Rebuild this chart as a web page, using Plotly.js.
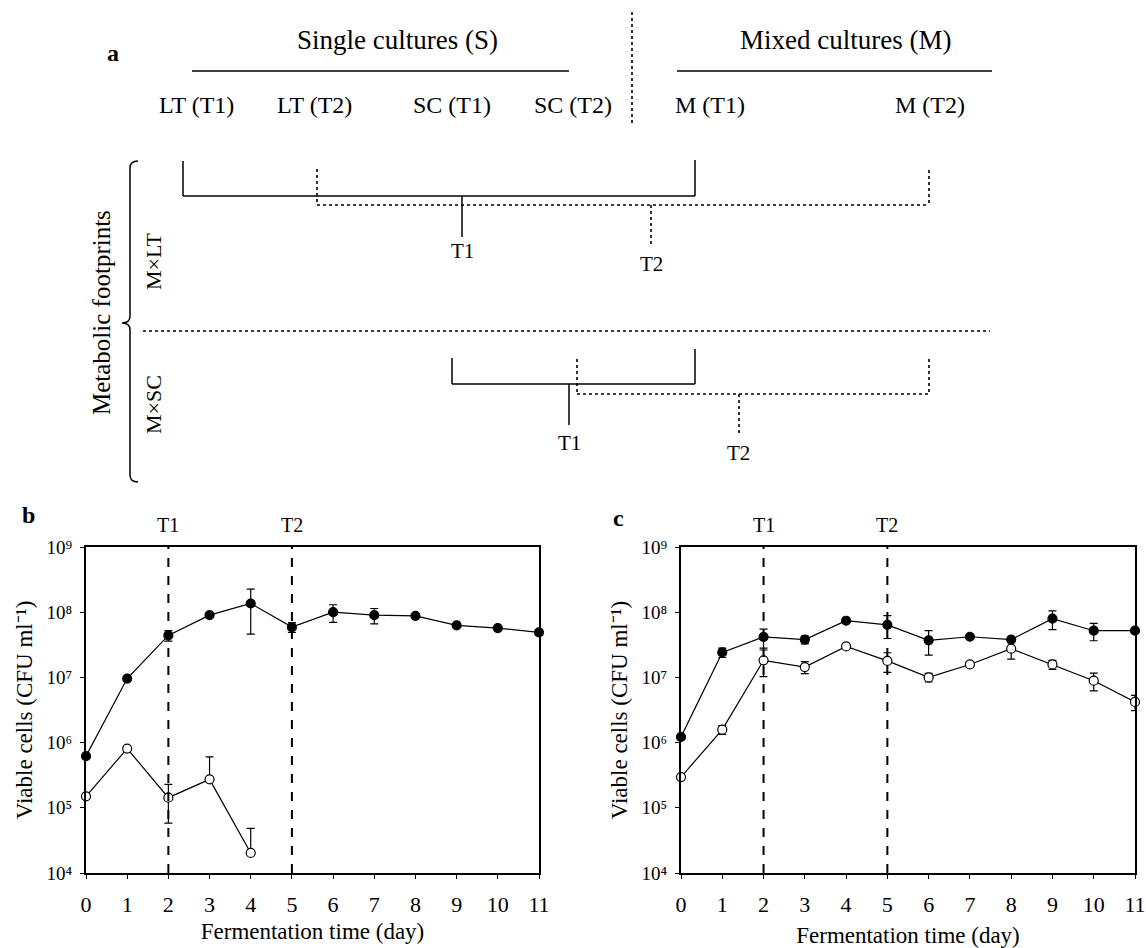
<!DOCTYPE html>
<html><head><meta charset="utf-8">
<script src="https://cdn.plot.ly/plotly-3.0.1.min.js"></script>
<style>html,body{margin:0;padding:0;background:#fff}</style>
</head><body>
<div id="chart" style="width:1146px;height:948px"></div>
<script>
// ---------- data ----------
const days = [0,1,2,3,4,5,6,7,8,9,10,11];
const samplingDays = [2, 5];
const samplingLabels = ['T1', 'T2'];

// panel b: single cultures
const singleFilled      = [6.2e5, 9.6e6, 4.4e7, 9.0e7, 1.36e8, 5.9e7, 1.0e8, 9.0e7, 8.8e7, 6.3e7, 5.7e7, 4.9e7];
const singleFilledErr   = [0, 0, 8e6, 5e6, 9e7, 1e7, 3e7, 2.4e7, 3e6, 0, 0, 4e6];
const singleOpenDays    = [0,1,2,3,4];
const singleOpen        = [1.5e5, 8.1e5, 1.43e5, 2.73e5, 2.03e4];
const singleOpenErrUp   = [0, 0, 8.5e4, 3.3e5, 2.8e4];
const singleOpenErrDown = [0, 0, 8.5e4, 0, 0];

// panel c: mixed cultures
const mixedFilled    = [1.22e6, 2.42e7, 4.17e7, 3.8e7, 7.4e7, 6.4e7, 3.7e7, 4.2e7, 3.8e7, 7.96e7, 5.2e7, 5.2e7];
const mixedFilledErr = [0, 4e6, 1.35e7, 5.4e6, 2e6, 2.45e7, 1.5e7, 2e6, 2e6, 2.55e7, 1.55e7, 0];
const mixedOpen      = [2.96e5, 1.58e6, 1.83e7, 1.44e7, 2.99e7, 1.79e7, 1.0e7, 1.58e7, 2.76e7, 1.58e7, 8.9e6, 4.2e6];
const mixedOpenErr   = [0, 2.5e5, 8e6, 3e6, 1e6, 6e6, 1.5e6, 1.5e6, 8.5e6, 2.5e6, 2.7e6, 1.1e6];

const yTickVals = [1e4, 1e5, 1e6, 1e7, 1e8, 1e9];
const yTickText = ['10⁴', '10⁵', '10⁶', '10⁷', '10⁸', '10⁹'];
const yTitle = 'Viable cells (CFU ml⁻¹)';
const xTitle = 'Fermentation time (day)';

// panel a: scheme labels
const groupLabels = ['Single cultures (S)', 'Mixed cultures (M)'];
const sampleLabels = ['LT (T1)', 'LT (T2)', 'SC (T1)', 'SC (T2)', 'M (T1)', 'M (T2)'];
const comparisonLabels = ['M×LT', 'M×SC'];
const footprintLabel = 'Metabolic footprints';

// ---------- helpers ----------
const W = 1146, H = 948;
const px = x => x / W, py = y => 1 - y / H;
const FONT = 'Liberation Serif';

function line(x0, y0, x1, y1, dash) {
  return {type:'line', xref:'paper', yref:'paper', x0:px(x0), y0:py(y0), x1:px(x1), y1:py(y1),
          line:{color:'#000', width: dash ? 1.6 : 1.5, dash: dash ? 'dot' : 'solid'}};
}
function text(x, y, t, size, extra) {
  return Object.assign({xref:'paper', yref:'paper', x:px(x), y:py(y), text:t, showarrow:false,
          xanchor:'center', yanchor:'middle', font:{family:FONT, size:size, color:'#000'}}, extra || {});
}

function xAxis(domain, anchor, titleStandoff) {
  return {domain, anchor, range:[0, 11], tickvals: days, ticks:'outside', ticklen:4, tickwidth:1.2,
    tickcolor:'#000', showline:true, linewidth:2, linecolor:'#000', mirror:true, showgrid:false,
    zeroline:false, automargin:false, ticklabelstandoff:7, tickfont:{family:FONT, size:22, color:'#000'},
    title:{text:xTitle, font:{family:FONT, size:23, color:'#000'}, standoff:titleStandoff}};
}
function yAxis(domain, anchor) {
  return {domain, anchor, type:'log', range:[4, 9], tickvals: yTickVals, ticktext: yTickText,
    ticks:'outside', ticklen:4, tickwidth:1.2, tickcolor:'#000', showline:true, linewidth:2,
    linecolor:'#000', mirror:true, showgrid:false, zeroline:false, automargin:false, ticklabelstandoff:4,
    tickfont:{family:FONT, size:19, color:'#000'},
    title:{text:yTitle, font:{family:FONT, size:23, color:'#000'}, standoff:8}};
}

function series(x, y, errUp, errDown, filled, xa, ya) {
  return {x, y, xaxis:xa, yaxis:ya, type:'scatter', mode:'lines+markers', cliponaxis:false,
    line:{color:'#000', width:1.2},
    marker:{size:9, color: filled ? '#000' : '#fff', line:{color:'#000', width:1.2}},
    error_y:{type:'data', symmetric:false, array:errUp, arrayminus:errDown, color:'#000', thickness:1.2, width:4},
    hoverinfo:'x+y'};
}

const traces = [
  series(days, singleFilled, singleFilledErr, singleFilledErr, true, 'x', 'y'),
  series(singleOpenDays, singleOpen, singleOpenErrUp, singleOpenErrDown, false, 'x', 'y'),
  series(days, mixedFilled, mixedFilledErr, mixedFilledErr, true, 'x2', 'y2'),
  series(days, mixedOpen, mixedOpenErr, mixedOpenErr, false, 'x2', 'y2')
];

// ---------- shapes ----------
const shapes = [];
['x', 'x2'].forEach(xr => {
  samplingDays.forEach(d => {
    shapes.push({type:'line', xref:xr, yref:(xr === 'x' ? 'y' : 'y2') + ' domain', x0:d, x1:d, y0:0, y1:1,
      line:{color:'#000', width:2, dash:'dash'}});
  });
});

// panel a scheme
shapes.push(line(192, 71, 569, 71));          // under Single cultures
shapes.push(line(677, 71, 992, 71));          // under Mixed cultures
shapes.push(line(632, 12, 632, 123, true));   // separator S | M
// M x LT, T1 (solid)
shapes.push(line(183, 161, 183, 196), line(183, 196, 695, 196), line(695, 160, 695, 196), line(462, 196, 462, 237));
// M x LT, T2 (dotted)
shapes.push(line(317, 169, 317, 205, true), line(317, 205, 929, 205, true), line(929, 170, 929, 205, true), line(651, 205, 651, 246, true));
// separator between comparisons
shapes.push(line(143, 331, 990, 331, true));
// M x SC, T1 (solid)
shapes.push(line(452, 358, 452, 384), line(452, 384, 695, 384), line(695, 349, 695, 384), line(569, 384, 569, 425));
// M x SC, T2 (dotted)
shapes.push(line(577, 359, 577, 394, true), line(577, 394, 929, 394, true), line(929, 359, 929, 394, true), line(739, 394, 739, 435, true));
// brace
const P = (x, y) => px(x) + ',' + py(y);
shapes.push({type:'path', xref:'paper', yref:'paper', line:{color:'#000', width:1.5},
  path:'M' + P(138,161) + ' Q' + P(130,161) + ' ' + P(130,168) + ' L' + P(130,316) +
       ' Q' + P(130,323) + ' ' + P(122,323) + ' Q' + P(130,323) + ' ' + P(130,330) +
       ' L' + P(130,475) + ' Q' + P(130,482) + ' ' + P(138,482)});

// ---------- annotations ----------
const annotations = [];
annotations.push(text(113, 53, '<b>a</b>', 24));
annotations.push(text(28, 515, '<b>b</b>', 24));
annotations.push(text(618, 518, '<b>c</b>', 24));
// sampling labels above charts
['x', 'x2'].forEach(xr => {
  samplingDays.forEach((d, i) => {
    annotations.push({xref:xr, yref:'paper', x:d, y:py(525), text:samplingLabels[i], showarrow:false,
      xanchor:'center', yanchor:'middle', font:{family:FONT, size:20, color:'#000'}});
  });
});
// scheme texts
const groupX = [397, 845];
groupLabels.forEach((t, i) => annotations.push(text(groupX[i], 40, t, 27)));
const sampleX = [196, 314, 452, 573, 710, 930];
sampleLabels.forEach((t, i) => annotations.push(text(sampleX[i], 105, t, 24)));
annotations.push(text(101, 313, footprintLabel, 25, {textangle:-90}));
annotations.push(text(153, 262, comparisonLabels[0], 22, {textangle:-90}));
annotations.push(text(153, 405, comparisonLabels[1], 22, {textangle:-90}));
// dendrogram node labels
annotations.push(text(462, 251, samplingLabels[0], 21));
annotations.push(text(651, 264, samplingLabels[1], 21));
annotations.push(text(569, 443, samplingLabels[0], 21));
annotations.push(text(739, 453, samplingLabels[1], 21));

const layout = {
  width: W, height: H, margin:{l:0, r:0, t:0, b:0}, paper_bgcolor:'#fff', plot_bgcolor:'rgba(0,0,0,0)',
  showlegend:false, font:{family:FONT, color:'#000'},
  xaxis: xAxis([px(86), px(539)], 'y', 6),
  yaxis: yAxis([py(873), py(547)], 'x'),
  xaxis2: xAxis([px(681), px(1135)], 'y2', 12),
  yaxis2: yAxis([py(873), py(547)], 'x2'),
  shapes, annotations
};

Plotly.newPlot('chart', traces, layout, {displayModeBar:false});
</script>
</body></html>
